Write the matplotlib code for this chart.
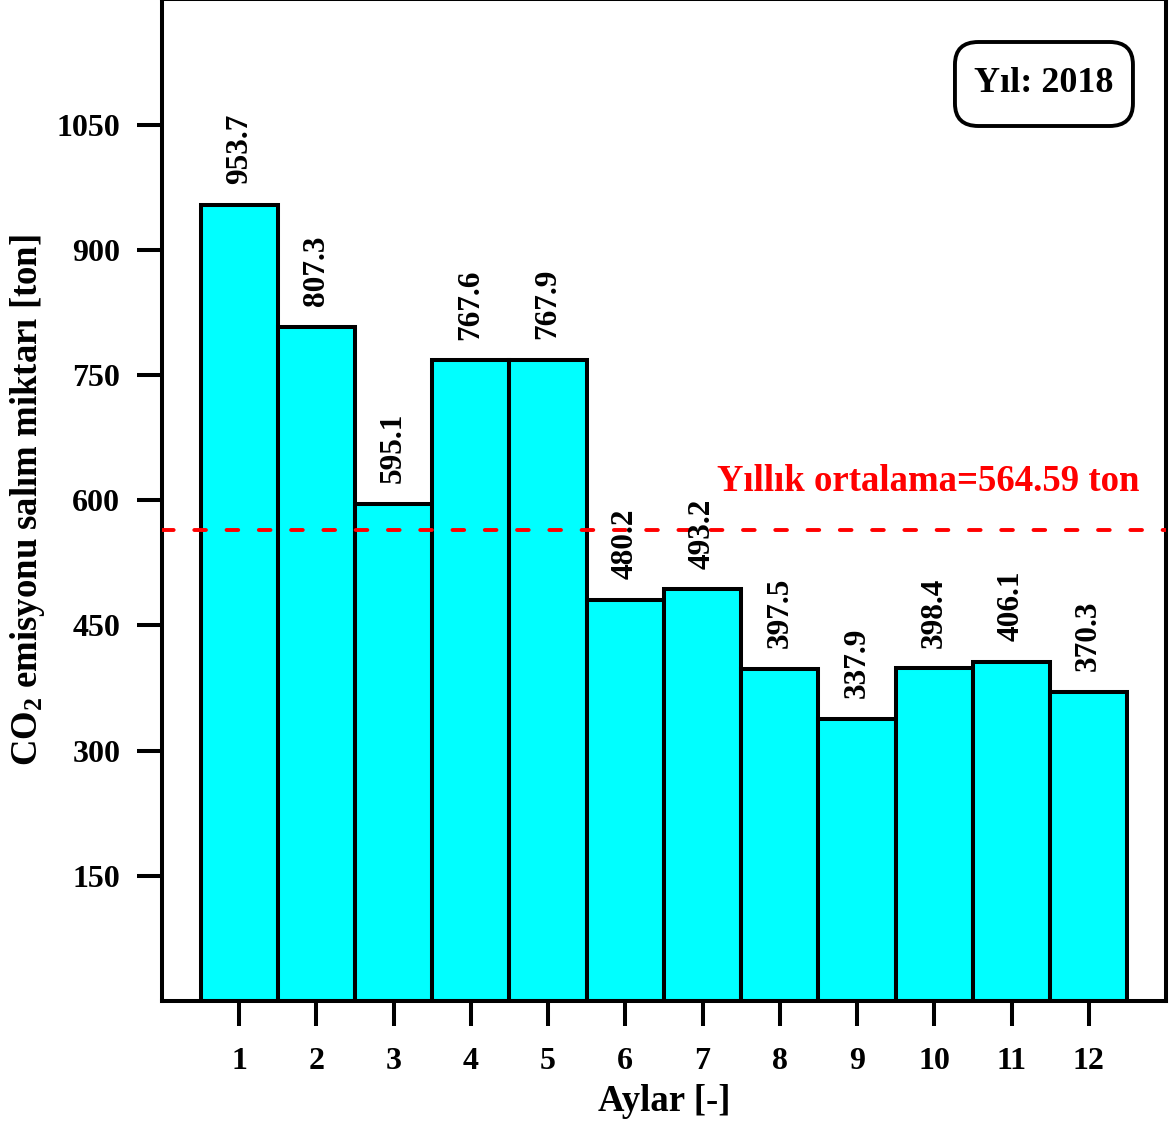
import matplotlib.pyplot as plt
from matplotlib.patches import FancyBboxPatch

# Aylık CO2 salım verileri (2018)
aylar = [1, 2, 3, 4, 5, 6, 7, 8, 9, 10, 11, 12]
salim = [953.7, 807.3, 595.1, 767.6, 767.9, 480.2, 493.2, 397.5, 337.9, 398.4, 406.1, 370.3]
ortalama = 564.59
y_ticks = [150, 300, 450, 600, 750, 900, 1050]

plt.rcParams['font.family'] = ['Liberation Serif', 'DejaVu Serif']
plt.rcParams['font.weight'] = 'bold'
plt.rcParams['mathtext.fontset'] = 'custom'
plt.rcParams['mathtext.rm'] = 'Liberation Serif:bold'
plt.rcParams['mathtext.bf'] = 'Liberation Serif:bold'
plt.rcParams['mathtext.default'] = 'bf'

fig = plt.figure(figsize=(11.71, 11.26), dpi=100)
ax = fig.add_axes([0.1383, 0.111, 0.8574, 0.8895])

ax.bar(aylar, salim, width=1.0, color='#00ffff', edgecolor='black', linewidth=2.9, zorder=2)

# Değer etiketleri
for x, v in zip(aylar, salim):
    ax.annotate(f"{v:.1f}", (x, v), xytext=(0, 15), textcoords='offset points',
                rotation=90, ha='center', va='bottom', fontsize=22.5, fontweight='bold', zorder=4)

# Yıllık ortalama çizgisi
ax.axhline(ortalama, color='red', linestyle=(0, (3, 5.3)), linewidth=2.8,
           dash_capstyle='round', zorder=3)
ax.text(12.65, 622, f"Yıllık ortalama={ortalama} ton", color='red', ha='right', va='center',
        fontsize=26.5, fontweight='bold', zorder=4)

# Yıl kutusu
kutu = FancyBboxPatch((0.8155, 0.8881), 0.152, 0.0746, boxstyle='round,pad=0,rounding_size=0.02',
                      transform=fig.transFigure, facecolor='white', edgecolor='black',
                      linewidth=2.8, zorder=5)
fig.patches.append(kutu)
fig.text(0.8915, 0.9254, "Yıl: 2018", ha='center', va='center', fontsize=26, fontweight='bold', zorder=6)

ax.set_xlim(0, 13)
ax.set_ylim(0, 1200)
ax.set_xticks(aylar)
ax.set_yticks(y_ticks)
ax.tick_params(axis='both', direction='out', length=18, width=2.9, labelsize=23)
ax.tick_params(axis='x', pad=15)
ax.tick_params(axis='y', pad=12)
for lbl in ax.get_xticklabels() + ax.get_yticklabels():
    lbl.set_fontweight('bold')

for s in ax.spines.values():
    s.set_linewidth(2.9)

ax.set_xlabel("Aylar [-]", fontsize=26.5, fontweight='bold', labelpad=6)
ax.set_ylabel("CO$_2$ emisyonu salım miktarı [ton]", fontsize=26.5, fontweight='bold', labelpad=7)

plt.savefig("out.png", dpi=100)
plt.close()
